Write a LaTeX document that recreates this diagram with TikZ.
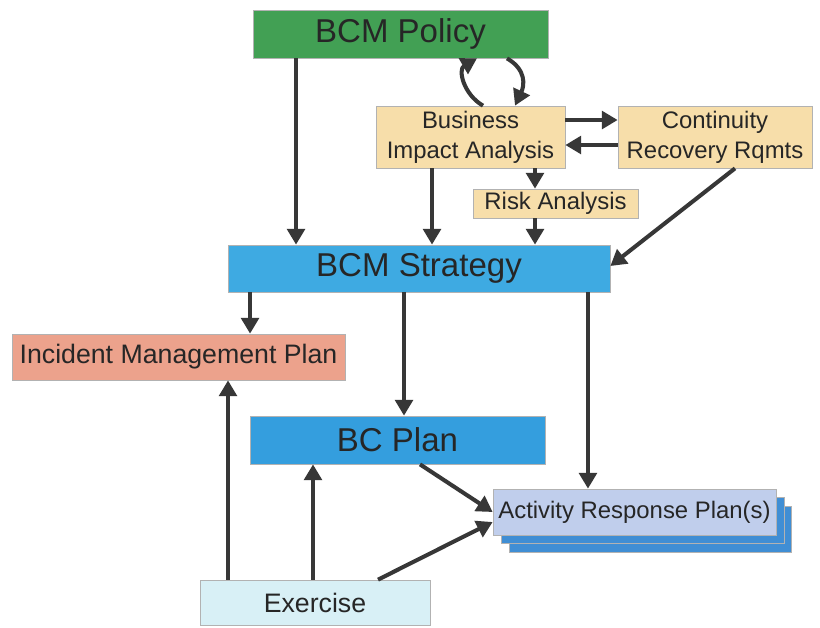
\documentclass[tikz,border=0pt]{standalone}
\usepackage{fontspec}
\setmainfont{Liberation Sans}
\usetikzlibrary{arrows.meta,shadows}
\definecolor{polgreen}{RGB}{66,160,84}
\definecolor{biatan}{RGB}{247,222,170}
\definecolor{stratblue}{RGB}{62,170,226}
\definecolor{bcpblue}{RGB}{52,158,222}
\definecolor{impsalmon}{RGB}{236,162,140}
\definecolor{arpfront}{RGB}{192,206,236}
\definecolor{arpback}{RGB}{64,142,212}
\definecolor{exlight}{RGB}{216,240,246}
\definecolor{arrgray}{RGB}{55,55,55}
\def\bigtext{\fontsize{18.8}{21}\selectfont}
\def\midtext{\fontsize{15.2}{17}\selectfont}
\def\smalltext{\fontsize{13.6}{17}\selectfont}

\begin{document}
\begin{tikzpicture}[x=0.02cm,y=0.02cm,
	box/.style={draw=gray!60, thin, inner sep=0pt, text=black!85, align=center},
	arr/.style={draw=arrgray, line width=2.3pt, -{Triangle[width=10pt,length=9pt]}}]
		%%%%% START %%%%%
		\useasboundingbox[fill=white] (0,0) rectangle (820,-627);
		
		\node[box, fill=polgreen, minimum width=5.9cm, minimum height=0.96cm, font=\bigtext] (pol) at (400.5,-34) {BCM Policy};
		\node[box, fill=biatan, minimum width=3.78cm, minimum height=1.24cm, font=\smalltext] (bia) at (470.5,-137) {Business\\Impact Analysis};
		\node[box, fill=biatan, minimum width=3.88cm, minimum height=1.24cm, font=\smalltext] (crr) at (715,-137) {Continuity\\Recovery Rqmts};
		\node[box, fill=biatan, minimum width=3.3cm, minimum height=0.58cm, font=\smalltext] (risk) at (555.5,-203.5) {Risk Analysis};
		\node[box, fill=stratblue, minimum width=7.64cm, minimum height=0.94cm, font=\bigtext] (strat) at (419,-268.5) {BCM Strategy};
		\node[box, fill=impsalmon, minimum width=6.66cm, minimum height=0.92cm, font=\midtext] (imp) at (178.5,-357) {Incident Management Plan};
		\node[box, fill=bcpblue, minimum width=5.9cm, minimum height=0.96cm, font=\bigtext] (bcp) at (397.5,-440) {BC Plan};
		\node[box, fill=arpfront, minimum width=5.66cm, minimum height=0.92cm, font=\smalltext,
			double copy shadow={shadow xshift=4.5pt, shadow yshift=-4.8pt, fill=arpback, draw=gray!60}] (arp) at (634.5,-512) {Activity Response Plan(s)};
		\node[box, fill=exlight, minimum width=4.6cm, minimum height=0.9cm, font=\midtext] (ex) at (315,-602.5) {Exercise};
		
		% policy and BIA loop
		\draw[arr] ([xshift=-2.09cm]pol.south) -- ([xshift=-2.09cm]pol.south |- strat.north);
		\draw[arr] ([xshift=0.25cm]bia.north) to[out=150,in=-150,looseness=1.2] ([xshift=1.53cm]pol.south);
		\draw[arr] ([xshift=2.13cm]pol.south) to[out=-30,in=65,looseness=1.2] ([xshift=0.89cm]bia.north);
		
		% analysis boxes
		\draw[arr] ([yshift=0.34cm]bia.east) -- ([yshift=0.34cm]crr.west);
		\draw[arr] ([yshift=-0.16cm]crr.west) -- ([yshift=-0.16cm]bia.east);
		\draw[arr] ([xshift=-0.77cm]bia.south) -- ([xshift=-0.77cm]bia.south |- strat.north);
		\draw[arr] ([xshift=1.29cm]bia.south) -- ([xshift=1.29cm]bia.south |- risk.north);
		\draw[arr] ([xshift=-0.41cm]risk.south) -- ([xshift=-0.41cm]risk.south |- strat.north);
		\draw[arr] ([xshift=0.4cm]crr.south) -- ([yshift=0.05cm]strat.east);
		
		% strategy to plans
		\draw[arr] ([xshift=-3.38cm]strat.south) -- ([xshift=-3.38cm]strat.south |- imp.north);
		\draw[arr] ([xshift=-0.3cm]strat.south) -- ([xshift=-0.3cm]strat.south |- bcp.north);
		\draw[arr] ([xshift=3.38cm]strat.south) -- ([xshift=3.38cm]strat.south |- arp.north);
		\draw[arr] ([xshift=0.45cm]bcp.south) -- (arp.west);
		
		% exercise
		\draw[arr] ([xshift=-1.74cm]ex.north) -- ([xshift=-1.74cm]ex.north |- imp.south);
		\draw[arr] ([xshift=-0.04cm]ex.north) -- ([xshift=-0.04cm]ex.north |- bcp.south);
		\draw[arr] ([xshift=1.26cm]ex.north) -- ([yshift=-0.2cm]arp.west);
		%%%%% END %%%%%
	\end{tikzpicture}
\end{document}
